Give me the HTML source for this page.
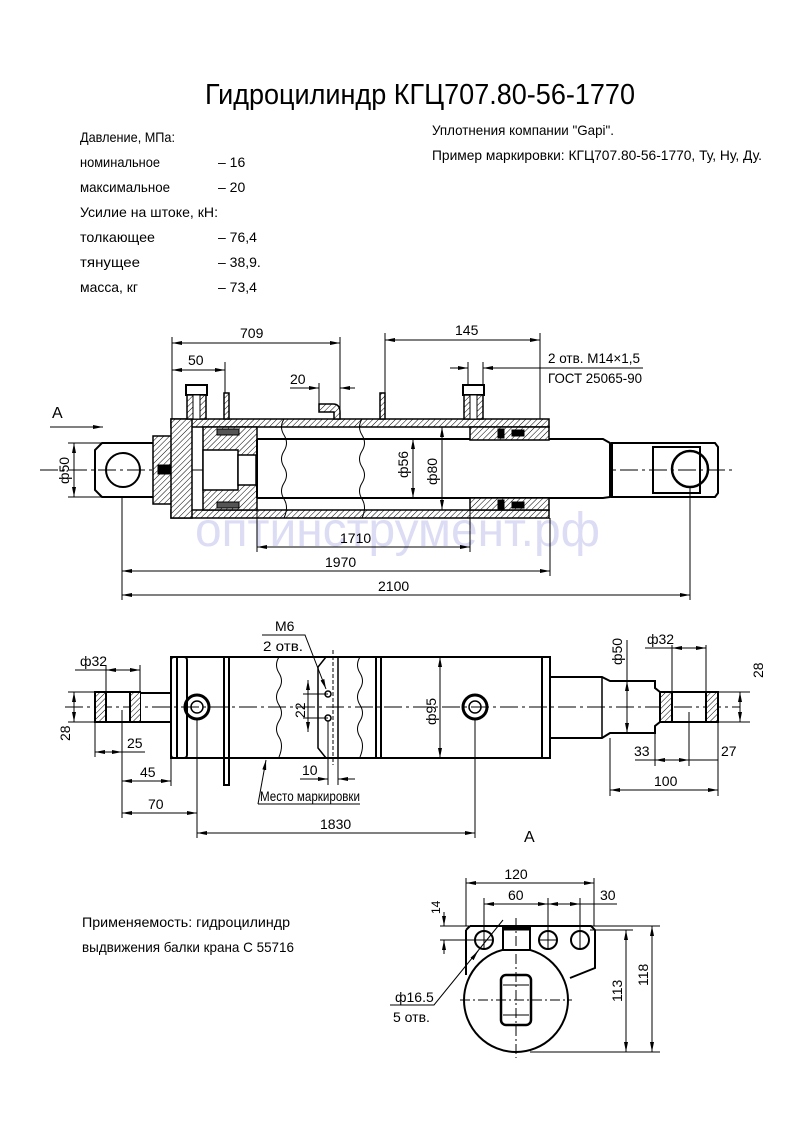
<!DOCTYPE html>
<html><head><meta charset="utf-8"><style>
html,body{margin:0;padding:0;background:#fff;}
svg{display:block;}
text{font-family:"Liberation Sans Narrow","Liberation Sans","DejaVu Sans",sans-serif;fill:#000;}
</style></head><body>
<svg width="793" height="1123" viewBox="0 0 793 1123" xmlns="http://www.w3.org/2000/svg">
<defs>
<pattern id="h" width="4" height="4" patternUnits="userSpaceOnUse" patternTransform="rotate(45)">
<rect width="4" height="4" fill="#fff"/><line x1="0" y1="0" x2="0" y2="4" stroke="#000" stroke-width="1"/></pattern>
<marker id="a" viewBox="0 0 10 4" refX="10" refY="2" markerWidth="10" markerHeight="4" orient="auto-start-reverse" markerUnits="userSpaceOnUse"><path d="M0,0L10,2L0,4z" fill="#000"/></marker>
</defs>

<!-- Title and text -->
<text x="205" y="104" font-size="29" textLength="430" lengthAdjust="spacingAndGlyphs">Гидроцилиндр КГЦ707.80-56-1770</text>
<g font-size="14">
<text x="80" y="142" textLength="95" lengthAdjust="spacingAndGlyphs">Давление, МПа:</text>
<text x="80" y="167" textLength="80" lengthAdjust="spacingAndGlyphs">номинальное</text><text x="218" y="167">– 16</text>
<text x="80" y="192" textLength="90" lengthAdjust="spacingAndGlyphs">максимальное</text><text x="218" y="192">– 20</text>
<text x="80" y="217" textLength="138" lengthAdjust="spacingAndGlyphs">Усилие на штоке, кН:</text>
<text x="80" y="242" textLength="75" lengthAdjust="spacingAndGlyphs">толкающее</text><text x="218" y="242">– 76,4</text>
<text x="80" y="267" textLength="60" lengthAdjust="spacingAndGlyphs">тянущее</text><text x="218" y="267">– 38,9.</text>
<text x="80" y="292" textLength="58" lengthAdjust="spacingAndGlyphs">масса, кг</text><text x="218" y="292">– 73,4</text>
<text x="432" y="135" textLength="182" lengthAdjust="spacingAndGlyphs">Уплотнения компании "Gapi".</text>
<text x="432" y="160" textLength="330" lengthAdjust="spacingAndGlyphs">Пример маркировки: КГЦ707.80-56-1770, Ту, Ну, Ду.</text>
</g>

<!-- Watermark -->
<text x="195" y="546" font-size="48" fill="#dcdcf5" style="fill:#dcdcf5" textLength="405" lengthAdjust="spacingAndGlyphs">оптинструмент.рф</text>

<g stroke="#000" fill="none" stroke-width="1">
<!-- ===== VIEW 1 ===== -->
<line x1="40" y1="470" x2="735" y2="470" stroke-dasharray="18,4,3,4"/>
<!-- left eye -->
<path d="M102,443 H155 V497 H102 L95,490 V450 Z" stroke-width="2"/>
<circle cx="123" cy="470" r="17" stroke-width="2"/>
<rect x="153" y="436" width="19" height="68" fill="url(#h)" stroke-width="1.5"/>
<rect x="158" y="465" width="22" height="9" fill="#000"/>
<!-- tube -->
<rect x="171" y="419" width="378" height="8" fill="url(#h)" stroke-width="1.5"/>
<rect x="171" y="510" width="378" height="8" fill="url(#h)" stroke-width="1.5"/>
<rect x="171" y="419" width="21" height="99" fill="url(#h)" stroke-width="1.5"/>
<!-- piston -->
<path d="M203,427 H257 V510 H203 Z" fill="url(#h)" stroke-width="1.5"/>
<rect x="203" y="450" width="35" height="40" fill="#fff" stroke-width="1.5"/>
<rect x="238" y="455" width="18" height="30" fill="#fff" stroke-width="1.5"/>
<rect x="217" y="429" width="22" height="6" fill="#555"/>
<rect x="217" y="502" width="22" height="6" fill="#555"/>
<!-- rod -->
<path d="M257,439 H603 L610,443 V497 L603,498 H257" stroke-width="2" fill="#fff"/>
<line x1="257" y1="439" x2="257" y2="498" stroke-width="2"/>
<!-- gland -->
<rect x="470" y="427" width="79" height="13" fill="url(#h)" stroke-width="1.5"/>
<rect x="470" y="498" width="79" height="12" fill="url(#h)" stroke-width="1.5"/>
<rect x="498" y="429" width="6" height="9" fill="#000"/><rect x="512" y="430" width="12" height="6" fill="#000"/>
<rect x="498" y="500" width="6" height="9" fill="#000"/><rect x="512" y="502" width="12" height="6" fill="#000"/>
<!-- rod eye -->
<path d="M612,443 H715 L718,447 V493 L715,497 H612 Z" stroke-width="2"/>
<rect x="653" y="447" width="47" height="46" stroke-width="2"/>
<circle cx="690" cy="469" r="18" stroke-width="2.5"/>
<!-- break lines -->
<path d="M284,419 q-5,8 0,16 q5,8 0,16 q-5,8 0,16 q5,8 0,16 q-5,8 0,16 q5,8 0,19"/>
<path d="M362,419 q-5,8 0,16 q5,8 0,16 q-5,8 0,16 q5,8 0,16 q-5,8 0,16 q5,8 0,19"/>
<!-- ports / brackets -->
<rect x="186" y="385" width="21" height="10" stroke-width="2"/>
<rect x="187" y="395" width="19" height="24" fill="url(#h)" stroke-width="1.5"/>
<rect x="193" y="395" width="7" height="24" fill="#fff"/>
<rect x="463" y="385" width="21" height="10" stroke-width="2"/>
<rect x="464" y="395" width="19" height="24" fill="url(#h)" stroke-width="1.5"/>
<rect x="470" y="395" width="7" height="24" fill="#fff"/>
<rect x="224" y="393" width="5" height="26" fill="url(#h)" stroke-width="1.5"/>
<rect x="380" y="393" width="5" height="26" fill="url(#h)" stroke-width="1.5"/>
<path d="M319,404 H333 Q340,404 340,412 V419 H334 V412 H319 Z" fill="url(#h)" stroke-width="1.5"/>
<!-- dims view1 -->
<line x1="172" y1="337" x2="172" y2="419"/>
<line x1="340" y1="337" x2="340" y2="419"/>
<line x1="225" y1="362" x2="225" y2="393"/>
<line x1="385" y1="333" x2="385" y2="393"/>
<line x1="540" y1="333" x2="540" y2="419"/>
<line x1="172" y1="343" x2="340" y2="343" marker-start="url(#a)" marker-end="url(#a)"/>
<line x1="172" y1="370" x2="225" y2="370" marker-start="url(#a)" marker-end="url(#a)"/>
<line x1="290" y1="388" x2="319" y2="388" marker-end="url(#a)"/>
<line x1="319" y1="383" x2="319" y2="404"/>
<line x1="355" y1="388" x2="340" y2="388" marker-end="url(#a)"/>
<line x1="385" y1="340" x2="540" y2="340" marker-start="url(#a)" marker-end="url(#a)"/>
<line x1="450" y1="368" x2="468" y2="368" marker-end="url(#a)"/>
<line x1="468" y1="362" x2="468" y2="385"/><line x1="483" y1="362" x2="483" y2="385"/>
<line x1="643" y1="368" x2="483" y2="368" marker-end="url(#a)"/>
<line x1="50" y1="427" x2="103" y2="427" marker-end="url(#a)"/>
<line x1="68" y1="443" x2="102" y2="443"/><line x1="68" y1="497" x2="102" y2="497"/>
<line x1="74" y1="443" x2="74" y2="497" marker-start="url(#a)" marker-end="url(#a)"/>
<line x1="413" y1="439" x2="413" y2="498" marker-start="url(#a)" marker-end="url(#a)"/>
<line x1="442" y1="427" x2="442" y2="510" marker-start="url(#a)" marker-end="url(#a)"/>
<line x1="257" y1="498" x2="257" y2="552"/><line x1="470" y1="510" x2="470" y2="552"/>
<line x1="257" y1="547" x2="470" y2="547" marker-start="url(#a)" marker-end="url(#a)"/>
<line x1="122" y1="497" x2="122" y2="600"/><line x1="550" y1="518" x2="550" y2="576"/>
<line x1="690" y1="487" x2="690" y2="600"/>
<line x1="122" y1="571" x2="550" y2="571" marker-start="url(#a)" marker-end="url(#a)"/>
<line x1="122" y1="595" x2="690" y2="595" marker-start="url(#a)" marker-end="url(#a)"/>

<!-- ===== VIEW 2 ===== -->
<line x1="65" y1="707" x2="740" y2="707" stroke-dasharray="18,4,3,4"/>
<rect x="95" y="692" width="45" height="30" stroke-width="2"/>
<rect x="96" y="693" width="10" height="28" fill="url(#h)" stroke="none"/>
<rect x="130" y="693" width="10" height="28" fill="url(#h)" stroke="none"/>
<line x1="106" y1="692" x2="106" y2="722" stroke-width="2"/><line x1="130" y1="692" x2="130" y2="722" stroke-width="2"/>
<path d="M140,693 H171 M140,722 H171" stroke-width="2"/>
<rect x="171" y="657" width="379" height="101" stroke-width="2"/>
<rect x="171" y="657" width="16" height="101" rx="3" stroke-width="2"/>
<line x1="177" y1="657" x2="177" y2="758" stroke-width="2"/>
<rect x="224" y="657" width="5" height="128" stroke-width="2"/>
<rect x="376" y="657" width="5" height="101" stroke-width="2"/>
<line x1="542" y1="657" x2="542" y2="758" stroke-width="2"/>
<path d="M326,657 L318,667 V748 L326,758 M338,657 V758" stroke-width="1.5"/>
<line x1="333" y1="650" x2="333" y2="765" stroke-dasharray="4,2"/>
<path d="M279,657 q-5,8 0,16 q5,8 0,16 q-5,8 0,16 q5,8 0,16 q-5,8 0,16 q5,8 0,20"/>
<path d="M360,657 q-5,8 0,16 q5,8 0,16 q-5,8 0,16 q5,8 0,16 q-5,8 0,16 q5,8 0,20"/>
<circle cx="197" cy="707" r="12" stroke-width="3"/><circle cx="197" cy="707" r="6" stroke-width="1.5"/>
<circle cx="475" cy="707" r="12" stroke-width="3"/><circle cx="475" cy="707" r="6" stroke-width="1.5"/>
<circle cx="328" cy="694" r="3" stroke-width="1.5"/><circle cx="328" cy="718" r="3" stroke-width="1.5"/>
<!-- right of view 2 -->
<path d="M550,677 H602 L610,681 H655 V688 L660,692 M550,738 H602 L610,733 H655 V726 L660,722" stroke-width="2"/>
<line x1="602" y1="677" x2="602" y2="738" stroke-width="1.5"/>
<rect x="660" y="692" width="58" height="30" stroke-width="2"/>
<rect x="661" y="693" width="11" height="28" fill="url(#h)" stroke="none"/>
<rect x="707" y="693" width="10" height="28" fill="url(#h)" stroke="none"/>
<line x1="672" y1="692" x2="672" y2="722" stroke-width="2"/><line x1="706" y1="692" x2="706" y2="722" stroke-width="2"/>
<!-- dims view2 -->
<line x1="106" y1="665" x2="106" y2="692"/><line x1="140" y1="665" x2="140" y2="692"/>
<line x1="75" y1="670" x2="106" y2="670"/>
<line x1="106" y1="670" x2="140" y2="670" marker-start="url(#a)" marker-end="url(#a)"/>
<line x1="68" y1="692" x2="95" y2="692"/><line x1="68" y1="722" x2="95" y2="722"/>
<line x1="74" y1="692" x2="74" y2="722" marker-start="url(#a)" marker-end="url(#a)"/>
<line x1="95" y1="722" x2="95" y2="757"/><line x1="122" y1="710" x2="122" y2="818"/>
<line x1="95" y1="752" x2="122" y2="752" marker-start="url(#a)" marker-end="url(#a)"/>
<line x1="122" y1="752" x2="145" y2="752"/>
<line x1="171" y1="758" x2="171" y2="786"/>
<line x1="122" y1="781" x2="171" y2="781" marker-start="url(#a)" marker-end="url(#a)"/>
<line x1="197" y1="719" x2="197" y2="838"/>
<line x1="122" y1="813" x2="197" y2="813" marker-start="url(#a)" marker-end="url(#a)"/>
<line x1="475" y1="719" x2="475" y2="838"/>
<line x1="197" y1="833" x2="475" y2="833" marker-start="url(#a)" marker-end="url(#a)"/>
<line x1="440" y1="657" x2="440" y2="758" marker-start="url(#a)" marker-end="url(#a)"/>
<line x1="303" y1="694" x2="328" y2="694"/><line x1="303" y1="718" x2="328" y2="718"/>
<line x1="308" y1="680" x2="308" y2="732" marker-start="url(#a)" marker-end="url(#a)"/>
<line x1="328" y1="721" x2="328" y2="785"/><line x1="338" y1="758" x2="338" y2="785"/>
<line x1="300" y1="779" x2="328" y2="779" marker-end="url(#a)"/>
<line x1="355" y1="779" x2="338" y2="779" marker-end="url(#a)"/>
<path d="M262,635 H305 L326,689" marker-end="url(#a)"/>
<path d="M258,804 L266,760" marker-end="url(#a)"/><line x1="258" y1="804" x2="360" y2="804"/>
<line x1="627" y1="640" x2="627" y2="733" />
<line x1="627" y1="681" x2="627" y2="733" marker-start="url(#a)" marker-end="url(#a)"/>
<line x1="672" y1="645" x2="672" y2="692"/><line x1="706" y1="645" x2="706" y2="692"/>
<line x1="645" y1="648" x2="672" y2="648"/>
<line x1="672" y1="648" x2="706" y2="648" marker-start="url(#a)" marker-end="url(#a)"/>
<line x1="718" y1="692" x2="750" y2="692"/><line x1="718" y1="722" x2="750" y2="722"/>
<line x1="740" y1="692" x2="740" y2="722" marker-start="url(#a)" marker-end="url(#a)"/>
<line x1="655" y1="733" x2="655" y2="766"/><line x1="689" y1="712" x2="689" y2="766"/><line x1="718" y1="722" x2="718" y2="796"/>
<line x1="610" y1="738" x2="610" y2="796"/>
<line x1="635" y1="760" x2="718" y2="760"/>
<line x1="655" y1="760" x2="689" y2="760" marker-start="url(#a)" marker-end="url(#a)"/>
<line x1="610" y1="790" x2="718" y2="790" marker-start="url(#a)" marker-end="url(#a)"/>

<!-- ===== VIEW A ===== -->
<path d="M470,926 H591 L595,930 V968 L570,978 M466,930 L470,926 M466,930 V975" stroke-width="2"/>
<circle cx="516" cy="1000" r="52" stroke-width="2" fill="#fff"/>
<rect x="503" y="928" width="27" height="22" stroke-width="2" fill="#fff"/>
<rect x="503" y="926" width="27" height="4" fill="#000"/>
<rect x="501" y="975" width="30" height="50" rx="5" stroke-width="2.5"/>
<line x1="503" y1="985" x2="529" y2="985"/><line x1="503" y1="1015" x2="529" y2="1015"/>
<circle cx="484" cy="940" r="9" stroke-width="2"/><circle cx="548" cy="940" r="9" stroke-width="2"/><circle cx="580" cy="940" r="9" stroke-width="2"/>
<line x1="476" y1="940" x2="492" y2="940"/><line x1="540" y1="940" x2="556" y2="940"/>
<line x1="516" y1="918" x2="516" y2="1058" stroke-dasharray="10,3,2,3"/>
<line x1="460" y1="1000" x2="572" y2="1000" stroke-dasharray="10,3,2,3"/>
<line x1="466" y1="878" x2="466" y2="926"/><line x1="594" y1="878" x2="594" y2="926"/>
<line x1="466" y1="883" x2="594" y2="883" marker-start="url(#a)" marker-end="url(#a)"/>
<line x1="484" y1="898" x2="484" y2="950"/><line x1="548" y1="898" x2="548" y2="950"/><line x1="580" y1="898" x2="580" y2="950"/>
<line x1="484" y1="904" x2="548" y2="904" marker-start="url(#a)" marker-end="url(#a)"/>
<line x1="548" y1="904" x2="580" y2="904" marker-start="url(#a)" marker-end="url(#a)"/>
<line x1="580" y1="904" x2="617" y2="904"/>
<line x1="440" y1="926" x2="660" y2="926"/><line x1="440" y1="940" x2="476" y2="940"/>
<line x1="444" y1="912" x2="444" y2="926" marker-end="url(#a)"/>
<line x1="444" y1="954" x2="444" y2="940" marker-end="url(#a)"/>
<line x1="590" y1="930" x2="633" y2="930"/>
<line x1="530" y1="1052" x2="660" y2="1052"/>
<line x1="626" y1="930" x2="626" y2="1052" marker-start="url(#a)" marker-end="url(#a)"/>
<line x1="652" y1="926" x2="652" y2="1052" marker-start="url(#a)" marker-end="url(#a)"/>
<path d="M390,1005 H434 L503,920" /><line x1="475" y1="955" x2="478" y2="951" marker-end="url(#a)"/>
</g>

<!-- labels -->
<g font-size="14">
<text x="240" y="338">709</text>
<text x="188" y="365">50</text>
<text x="290" y="384">20</text>
<text x="455" y="335">145</text>
<text x="548" y="363" textLength="92" lengthAdjust="spacingAndGlyphs">2 отв. М14×1,5</text>
<text x="548" y="383" textLength="94" lengthAdjust="spacingAndGlyphs">ГОСТ 25065-90</text>
<text x="52" y="418" font-size="16">А</text>
<text x="340" y="543">1710</text>
<text x="325" y="567">1970</text>
<text x="378" y="591">2100</text>
<text transform="translate(69,484) rotate(-90)">ф50</text>
<text transform="translate(408,478) rotate(-90)">ф56</text>
<text transform="translate(437,485) rotate(-90)">ф80</text>
<text x="275" y="631">М6</text>
<text x="263" y="651" textLength="40" lengthAdjust="spacingAndGlyphs">2 отв.</text>
<text x="80" y="666">ф32</text>
<text transform="translate(70,741) rotate(-90)">28</text>
<text x="127" y="748">25</text>
<text x="140" y="777">45</text>
<text x="148" y="809">70</text>
<text x="320" y="829">1830</text>
<text transform="translate(305,718) rotate(-90)">22</text>
<text x="302" y="775">10</text>
<text x="260" y="801" textLength="100" lengthAdjust="spacingAndGlyphs">Место маркировки</text>
<text transform="translate(436,725) rotate(-90)">ф95</text>
<text transform="translate(622,665) rotate(-90)">ф50</text>
<text x="647" y="644">ф32</text>
<text transform="translate(763,678) rotate(-90)">28</text>
<text x="634" y="756">33</text>
<text x="721" y="756">27</text>
<text x="654" y="786">100</text>
<text x="524" y="842" font-size="16">А</text>
<text x="516" y="879" text-anchor="middle">120</text>
<text x="508" y="900">60</text>
<text x="600" y="900">30</text>
<text transform="translate(440,914) rotate(-90)" font-size="12">14</text>
<text transform="translate(622,1002) rotate(-90)">113</text>
<text transform="translate(648,986) rotate(-90)">118</text>
<text x="395" y="1002">ф16.5</text>
<text x="393" y="1022">5 отв.</text>
<text x="82" y="927" textLength="208" lengthAdjust="spacingAndGlyphs">Применяемость: гидроцилиндр</text>
<text x="82" y="952" textLength="212" lengthAdjust="spacingAndGlyphs">выдвижения балки крана С 55716</text>
</g>
</svg>
</body></html>
